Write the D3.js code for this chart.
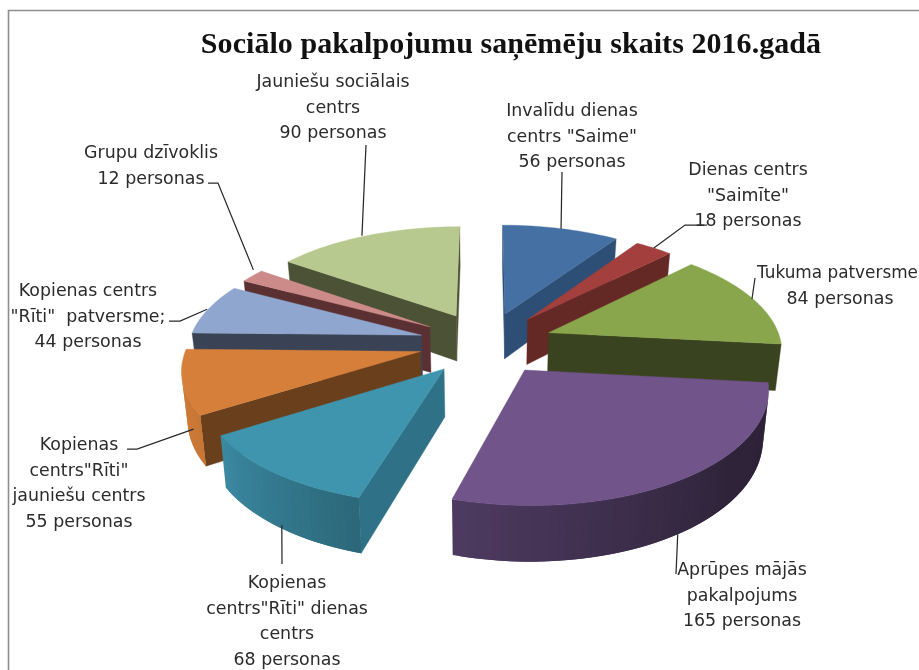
<!DOCTYPE html>
<html lang="lv">
<head>
<meta charset="utf-8">
<script src="https://cdn.jsdelivr.net/npm/d3@7/dist/d3.min.js"></script>
<style>
html,body{margin:0;padding:0;background:#fff;overflow:hidden}
svg{display:block;filter:blur(0.35px)}
</style>
</head>
<body>
<svg id="chart" width="919" height="670"></svg>
<script>
// ---- data ----
const chartTitle = "Sociālo pakalpojumu saņēmēju skaits 2016.gadā";
const categories = ["Invalīdu dienas centrs \"Saime\"", "Dienas centrs \"Saimīte\"", "Tukuma patversme", "Aprūpes mājās pakalpojums", "Kopienas centrs\"Rīti\" dienas centrs", "Kopienas centrs\"Rīti\" jauniešu centrs", "Kopienas centrs \"Rīti\" patversme;", "Grupu dzīvoklis", "Jauniešu sociālais centrs"];
const values = [56, 18, 84, 165, 68, 55, 44, 12, 90];
const labelLines = [
  ["Invalīdu dienas", "centrs \"Saime\""],
  ["Dienas centrs", "\"Saimīte\""],
  ["Tukuma patversme"],
  ["Aprūpes mājās", "pakalpojums"],
  ["Kopienas", "centrs\"Rīti\" dienas", "centrs"],
  ["Kopienas", "centrs\"Rīti\"", "jauniešu centrs"],
  ["Kopienas centrs", "\"Rīti\"  patversme;"],
  ["Grupu dzīvoklis"],
  ["Jauniešu sociālais", "centrs"]
];
const unit = "personas";

// ---- styling and layout ----
const topColors  = ["#4470a3", "#a33f3c", "#89a64c", "#70548a", "#3f94ae", "#d67f3a", "#8fa7cf", "#cc8b89", "#b8c98f"];
const wallColors = ["#2e4f75", "#642825", "#3a431f", "#3b2c4c", "#2f7287", "#6a3f1c", "#3a4356", "#5b3032", "#4c5236"];
const labelCx     = [572, 748, 840, 742, 287, 79, 88, 151, 333];
const labelTop    = [116, 175, 278, 575, 588, 450, 296, 158, 87];
const leaderTails = [
  [[562, 172]],
  [[685, 225], [707, 225]],
  [[755, 278]],
  [[676, 574]],
  [[282, 564]],
  [[137, 449], [127, 449]],
  [[180, 321], [169, 321]],
  [[218, 183], [208, 183]],
  [[366, 145]]
];
const leaderStartShift = [[0, 0], [0, 0], [-1, 0], [0, 0], [2.5, -2], [5, -2], [-1, 0], [1, -6], [-5, 0]];

const W = 919, H = 670;
const cx = 486, cy = 343, R = 235, explode = 68, tilt = 0.462, persp = 1700, depth = 46.5, baseNarrow = 0.98, xScale = 0.99;
const labelSize = 17.4, clippedLabelLeft = 757;

const svg = d3.select("#chart");

svg.append("path")
  .attr("d", "M919,10.5H8.5V670")
  .attr("fill", "none").attr("stroke", "#8e8e8e").attr("stroke-width", 1.6);

svg.append("text")
  .attr("x", 511).attr("y", 53).attr("text-anchor", "middle")
  .attr("font-family", "'Liberation Serif', serif").attr("font-weight", "bold")
  .attr("font-size", 30).attr("letter-spacing", 0.06).attr("fill", "#111").text(chartTitle);

const arcs = d3.pie().sort(null).startAngle(0).endAngle(2 * Math.PI)(values);

// perspective projection of the tilted disc
function proj(X, Y, bottom) {
  const k = persp / (persp + Y);
  const sy = cy - Y * tilt * k;
  return bottom
    ? [cx + X * xScale * k * baseNarrow, sy + depth * k]
    : [cx + X * xScale * k, sy];
}
const line = d3.line().curve(d3.curveLinearClosed);
const shadeScale = d3.scaleLinear().domain([96, 130, 196, 237, 270]).range([0.40, 0.42, 0.70, 0.93, 1.0]).clamp(true);

function rimShade(a) {
  const deg = a * 180 / Math.PI;
  return deg < 96 ? 0.85 : shadeScale(deg);
}

const slices = arcs.map((d, i) => {
  const mid = (d.startAngle + d.endAngle) / 2;
  const ox = explode * Math.sin(mid), oy = explode * Math.cos(mid);
  return { d, i, mid, ox, oy };
});

const order = slices.slice().sort((a, b) => d3.descending(a.oy, b.oy));

const pieG = svg.append("g");
order.forEach(s => {
  const g = pieG.append("g");
  const n = Math.max(6, Math.ceil((s.d.endAngle - s.d.startAngle) / 0.03));
  const angles = d3.range(n + 1).map(j => s.d.startAngle + (s.d.endAngle - s.d.startAngle) * j / n);
  const rimPts = angles.map(a => [s.ox + R * Math.sin(a), s.oy + R * Math.cos(a)]);
  const apex = [s.ox, s.oy];
  const world = [apex].concat(rimPts);

  const quadOf = (p, q) => [proj(p[0], p[1]), proj(q[0], q[1]), proj(q[0], q[1], true), proj(p[0], p[1], true)];
  const visible = quad => d3.polygonArea(quad) > 0;

  // radial walls first
  [[apex, rimPts[0]], [rimPts[n], apex]].forEach(([p, q]) => {
    const quad = quadOf(p, q);
    if (visible(quad)) {
      g.append("path").attr("d", line(quad)).attr("fill", wallColors[s.i]).attr("stroke", wallColors[s.i]).attr("stroke-width", 0.4);
    }
  });
  // outer wall: each band overlaps the next so no seams show
  for (let j = n - 1; j >= 0; j--) {
    const quad = quadOf(rimPts[j], rimPts[j + 1]);
    if (!visible(quad)) continue;
    const back = j > 0 ? quadOf(rimPts[j - 1], rimPts[j + 1]) : quad;
    const sh = rimShade(angles[j]);
    const c = d3.rgb(topColors[s.i]);
    const col = d3.rgb(c.r * sh, c.g * sh, c.b * sh).formatHex();
    g.append("path").attr("d", line(j > 0 && visible(quadOf(rimPts[j - 1], rimPts[j])) ? back : quad)).attr("fill", col);
  }
  g.append("path")
    .attr("d", line(world.map(p => proj(p[0], p[1]))))
    .attr("fill", topColors[s.i]).attr("stroke", topColors[s.i]).attr("stroke-width", 0.4);
});

// leader lines start on the rim at each slice's mid angle
const leaderLine = d3.line();
slices.forEach(s => {
  const X = s.ox + R * Math.sin(s.mid), Y = s.oy + R * Math.cos(s.mid);
  const front = Math.cos(s.mid) < -0.2;
  const st = proj(X, Y, front);
  st[0] += leaderStartShift[s.i][0]; st[1] += leaderStartShift[s.i][1];
  svg.append("path")
    .attr("d", leaderLine([st].concat(leaderTails[s.i])))
    .attr("fill", "none").attr("stroke", "#2a2a2a").attr("stroke-width", 1.25);
});

// labels
const labelG = svg.append("g")
  .attr("font-family", "'DejaVu Sans', sans-serif").attr("font-size", labelSize)
  .attr("fill", "#2b2b2b").attr("text-anchor", "middle");
slices.forEach(s => {
  const lines = labelLines[s.i].concat([`${values[s.i]} ${unit}`]);
  const t = labelG.append("text");
  lines.forEach((l, j) => {
    const span = t.append("tspan").attr("x", labelCx[s.i]).attr("y", labelTop[s.i] + j * 25.7)
      .style("white-space", "pre").text(l);
    // a line that would run past the right edge is fitted between its left position and the edge
    const len = span.node().getComputedTextLength();
    if (labelCx[s.i] + len / 2 > W - 1) {
      const room = W - 1 - clippedLabelLeft;
      span.attr("font-size", labelSize * room / len).attr("x", clippedLabelLeft + room / 2);
    }
  });
});
</script>
</body>
</html>
